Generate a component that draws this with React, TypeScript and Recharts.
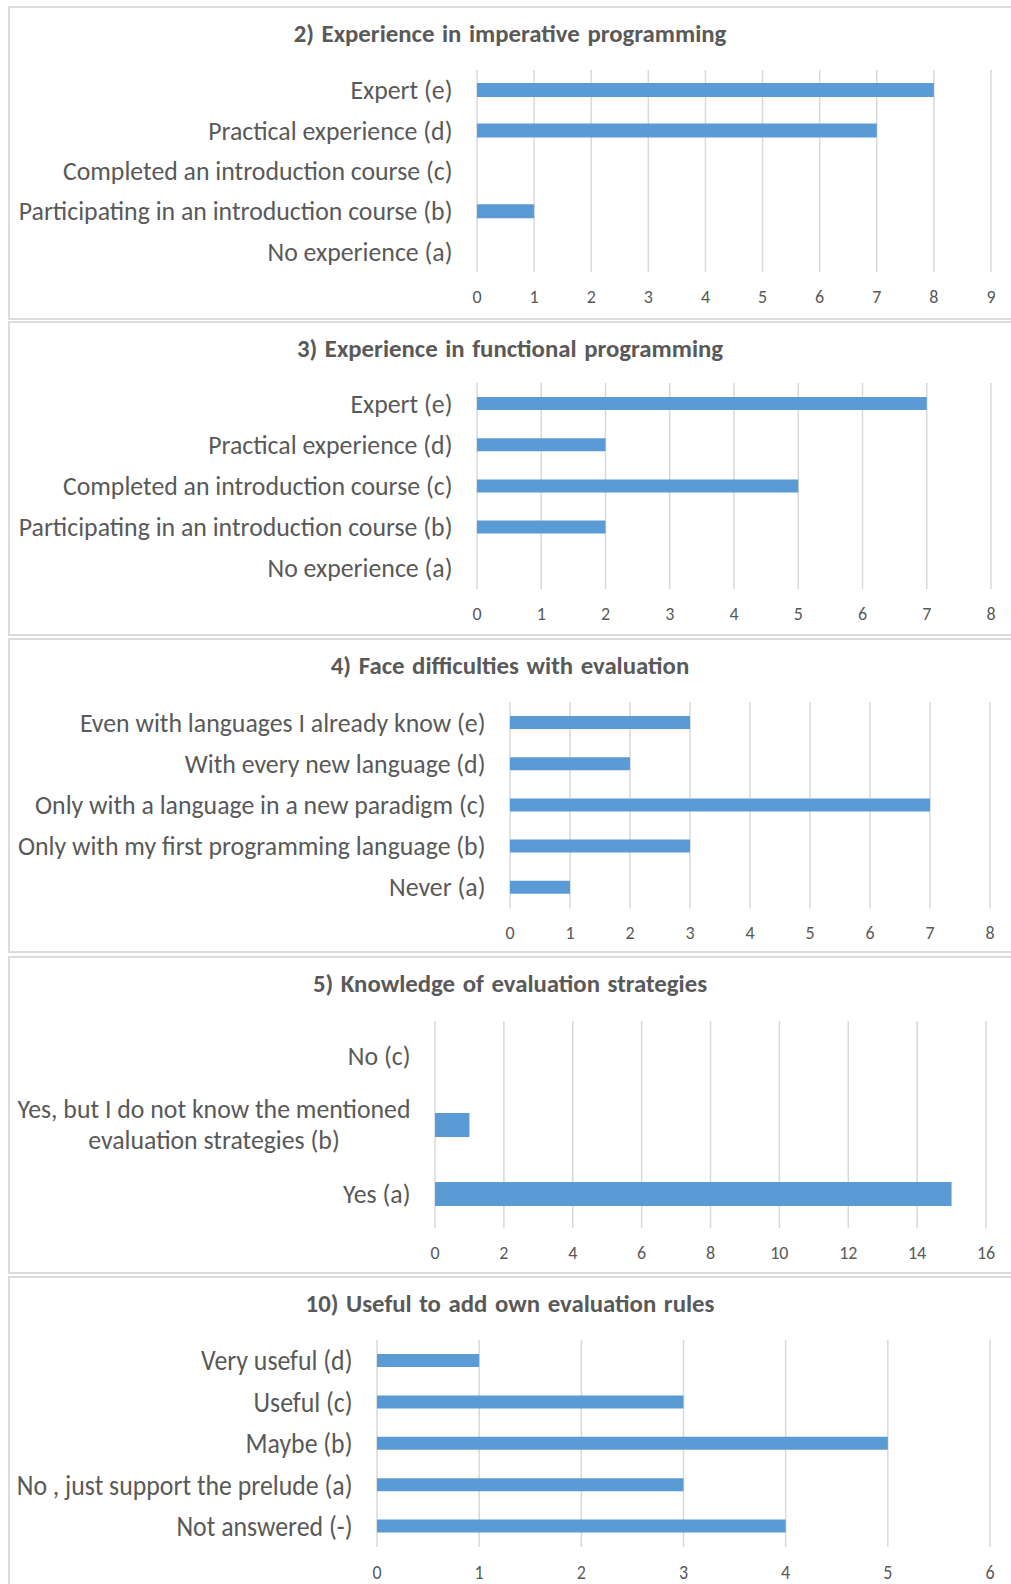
import React from 'react';
import { BarChart, Bar, XAxis, YAxis, CartesianGrid } from 'recharts';

const FONT = 'Carlito, Calibri, Lato, sans-serif';
const TEXT = '#595959';
const BLUE = '#5B9BD5';
const GRID = '#D9D9D9';

// 2) imperative programming
const imperativeLabels = [
  'Expert (e)',
  'Practical experience (d)',
  'Completed an introduction course (c)',
  'Participating in an introduction course (b)',
  'No experience (a)',
];
const imperativeValues = [8, 7, 0, 1, 0];
const imperativeTicks = [0, 1, 2, 3, 4, 5, 6, 7, 8, 9];

// 3) functional programming
const functionalLabels = imperativeLabels;
const functionalValues = [7, 2, 5, 2, 0];
const functionalTicks = [0, 1, 2, 3, 4, 5, 6, 7, 8];

// 4) difficulties with evaluation
const difficultyLabels = [
  'Even with languages I already know (e)',
  'With every new language (d)',
  'Only with a language in a new paradigm (c)',
  'Only with my first programming language (b)',
  'Never (a)',
];
const difficultyValues = [3, 2, 7, 3, 1];
const difficultyTicks = [0, 1, 2, 3, 4, 5, 6, 7, 8];

// 5) evaluation strategies
const strategyLabels = [
  'No (c)',
  'Yes, but I do not know the mentioned\nevaluation strategies (b)',
  'Yes (a)',
];
const strategyValues = [0, 1, 15];
const strategyTicks = [0, 2, 4, 6, 8, 10, 12, 14, 16];

// 10) own evaluation rules
const rulesLabels = [
  'Very useful (d)',
  'Useful (c)',
  'Maybe (b)',
  'No , just support the prelude (a)',
  'Not answered (-)',
];
const rulesValues = [1, 3, 5, 3, 4];
const rulesTicks = [0, 1, 2, 3, 4, 5, 6];

const panels = [
  {
    title: '2) Experience in imperative programming',
    labels: imperativeLabels, values: imperativeValues, ticks: imperativeTicks,
    box: { top: 6, bottom: 320 },
    plot: { left: 477, right: 991, top: 70, bottom: 272 },
    barSize: 14, stretch: 1,
  },
  {
    title: '3) Experience in functional programming',
    labels: functionalLabels, values: functionalValues, ticks: functionalTicks,
    box: { top: 321, bottom: 636 },
    plot: { left: 477, right: 991, top: 383, bottom: 589 },
    barSize: 13, stretch: 1,
  },
  {
    title: '4) Face difficulties with evaluation',
    labels: difficultyLabels, values: difficultyValues, ticks: difficultyTicks,
    box: { top: 638, bottom: 953 },
    plot: { left: 510, right: 990, top: 702, bottom: 908 },
    barSize: 13, stretch: 1,
  },
  {
    title: '5) Knowledge of evaluation strategies',
    labels: strategyLabels, values: strategyValues, ticks: strategyTicks,
    box: { top: 956, bottom: 1274 },
    plot: { left: 435, right: 986, top: 1021, bottom: 1228 },
    barSize: 24, stretch: 1,
  },
  {
    title: '10) Useful to add own evaluation rules',
    labels: rulesLabels, values: rulesValues, ticks: rulesTicks,
    box: { top: 1276, bottom: 1600 },
    plot: { left: 377, right: 990, top: 1340, bottom: 1547 },
    barSize: 13, stretch: 1.08,
  },
];

const LABEL_SIZE = 25.8;
const TICK_SIZE = 18;

let measureCtx: CanvasRenderingContext2D | null = null;
function textWidth(s: string, size: number) {
  if (!measureCtx) measureCtx = document.createElement('canvas').getContext('2d');
  if (!measureCtx) return s.length * size * 0.45;
  measureCtx.font = `${size}px ${FONT}`;
  return measureCtx.measureText(s).width;
}

function stretchAt(y: number, s: number) {
  return s === 1 ? undefined : `translate(0 ${y}) scale(1 ${s}) translate(0 ${-y})`;
}

function CategoryTick(props: any) {
  const { x, y, payload, stretch } = props;
  const lines = String(payload.value).split('\n');
  if (lines.length === 1) {
    return (
      <text x={x} y={y} dy="0.35em" textAnchor="end" fill={TEXT}
        fontSize={LABEL_SIZE} fontFamily={FONT} transform={stretchAt(y, stretch)}>
        {lines[0]}
      </text>
    );
  }
  // multi-line label: block right-aligned, lines centred on each other
  const w = Math.max(...lines.map((l) => textWidth(l, LABEL_SIZE)));
  const cx = x - w / 2;
  const lh = 31;
  const y0 = y - ((lines.length - 1) * lh) / 2;
  return (
    <text textAnchor="middle" fill={TEXT} fontSize={LABEL_SIZE} fontFamily={FONT}
      transform={stretchAt(y, stretch)}>
      {lines.map((l, i) => (
        <tspan key={i} x={cx} y={y0 + i * lh} dy="0.35em">{l}</tspan>
      ))}
    </text>
  );
}

function ValueTick(props: any) {
  const { x, y, payload, stretch } = props;
  return (
    <text x={x} y={y} dy="0.35em" textAnchor="middle" fill={TEXT}
      fontSize={TICK_SIZE} fontFamily={FONT} transform={stretchAt(y, stretch)}>
      {payload.value}
    </text>
  );
}

function Panel({ cfg }: { cfg: any }) {
  const { box, plot } = cfg;
  const chartTop = box.top;
  const chartH = plot.bottom + 40 - chartTop;
  const data = cfg.labels.map((label: string, i: number) => ({ label, value: cfg.values[i] }));
  const maxTick = cfg.ticks[cfg.ticks.length - 1];

  return (
    <>
      <div
        style={{
          position: 'absolute', left: 8, top: box.top, width: 1012,
          height: box.bottom - box.top, border: '2px solid #dcdcdc', boxSizing: 'border-box',
        }}
      />
      <div
        style={{
          position: 'absolute', left: 0, width: 1020, top: box.top + 28,
          transform: 'translateY(-50%)', textAlign: 'center', color: TEXT,
          fontFamily: FONT, fontWeight: 700, fontSize: 24.8, lineHeight: '30px', wordSpacing: 2,
        }}
      >
        {cfg.title}
      </div>
      <div style={{ position: 'absolute', left: 0, top: chartTop }}>
        <BarChart
          width={1011}
          height={chartH}
          layout="vertical"
          data={data}
          margin={{ top: plot.top - chartTop, right: 1011 - plot.right, bottom: 0, left: 0 }}
        >
          <CartesianGrid horizontal={false} stroke={GRID} strokeWidth={1.5} />
          <XAxis
            type="number"
            domain={[0, maxTick]}
            ticks={cfg.ticks}
            interval={0}
            axisLine={false}
            tickLine={false}
            tickSize={0}
            tickMargin={25}
            height={40}
            tick={<ValueTick stretch={cfg.stretch} />}
          />
          <YAxis
            type="category"
            dataKey="label"
            width={plot.left}
            interval={0}
            axisLine={false}
            tickLine={false}
            tickSize={0}
            tickMargin={24.5}
            tick={<CategoryTick stretch={cfg.stretch} />}
          />
          <Bar dataKey="value" fill={BLUE} barSize={cfg.barSize} isAnimationActive={false} />
        </BarChart>
      </div>
    </>
  );
}

export default function App() {
  return (
    <div
      style={{
        position: 'absolute', left: 0, top: 0, width: 1011, height: 1584,
        overflow: 'hidden', background: '#fff',
      }}
    >
      {panels.map((p) => (
        <Panel key={p.title} cfg={p} />
      ))}
    </div>
  );
}
